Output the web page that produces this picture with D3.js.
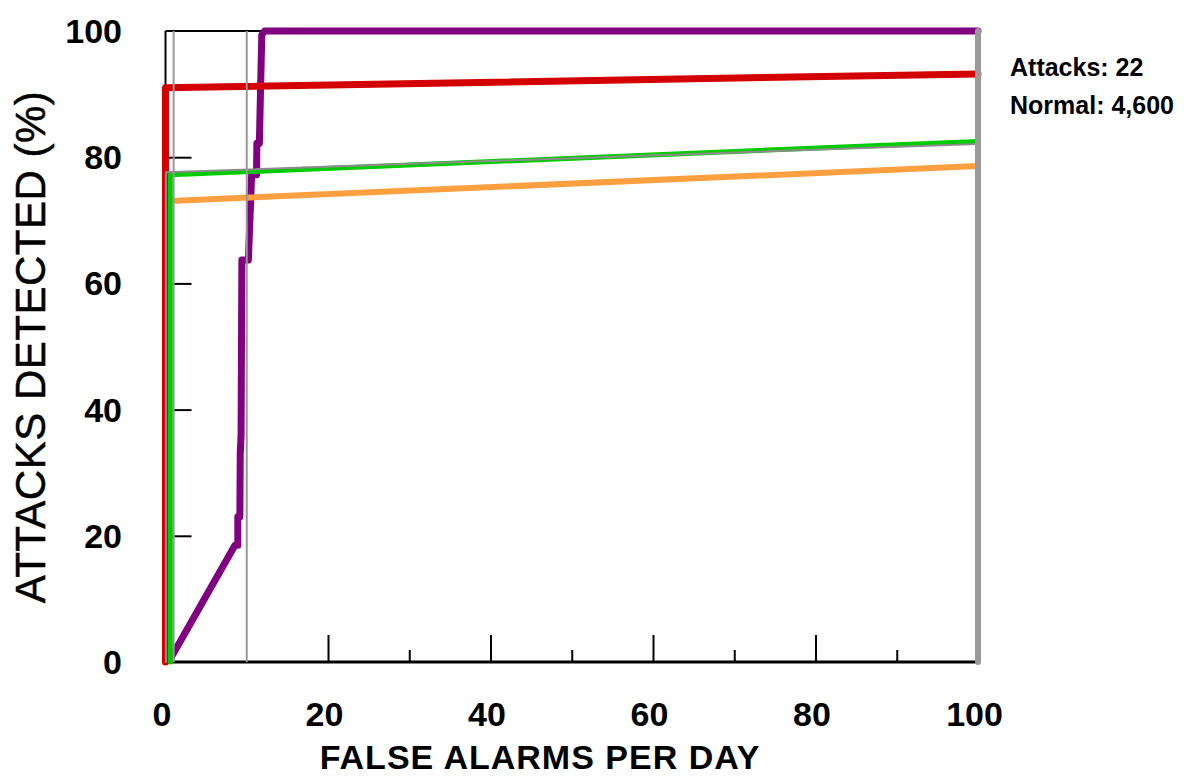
<!DOCTYPE html>
<html><head><meta charset="utf-8">
<script src="https://cdn.jsdelivr.net/npm/d3@7"></script>
<style>body{margin:0;background:#fff}svg{display:block}text{font-family:"Liberation Sans",Arial,Helvetica,sans-serif}</style>
</head><body>
<svg id="c" width="1184" height="776"></svg>
<script>
// Data
const xMajorTicks = [0, 20, 40, 60, 80, 100];
const xMinorTicks = [30, 50, 70, 90];
const yTicks = [0, 20, 40, 60, 80, 100];
const refLinesX = [1, 10];
const purpleX = [0.6, 8.55, 8.9, 8.9, 9.15, 9.2, 9.3, 9.4, 10.2, 10.6, 11.2, 11.25, 11.55, 11.85, 12.2, 100];
const purpleY = [0.5, 18.5, 18.5, 23, 23, 33, 36, 63.7, 63.7, 77.2, 77.2, 82.2, 82.2, 99.4, 100, 100];
const redX = [0, 0, 100];
const redY = [0, 91.0, 93.2];
const orangeX = [1.3, 100];
const orangeY = [73.1, 78.6];
const greenX = [0.6, 0.6, 100];
const greenY = [0, 77.2, 82.5];
const grayX = [0.05, 0.05, 100];
const grayY = [0, 77.6, 82.1];
const notes = ["Attacks: 22", "Normal: 4,600"];

const svg = d3.select("#c");
const x = d3.scaleLinear().domain([0, 100]).range([165.5, 978]);
const y = d3.scaleLinear().domain([0, 100]).range([662, 31]);
const zip = (a, b) => a.map((v, i) => [v, b[i]]);
const line = d3.line().x(d => x(d[0])).y(d => y(d[1]));

// frame top
svg.append("line").attr("x1", x(0)).attr("x2", x(100)).attr("y1", y(100)).attr("y2", y(100)).attr("stroke", "#000").attr("stroke-width", 2);

// x axis
const xAxis = d3.axisTop(x).tickValues([20, 40, 60, 80]).tickSize(27).tickFormat("");
const gx = svg.append("g").attr("transform", `translate(0,${y(0)})`).call(xAxis);
gx.select(".domain").remove();
gx.selectAll(".tick line").attr("stroke", "#000").attr("stroke-width", 2);
const xMinor = d3.axisTop(x).tickValues(xMinorTicks).tickSize(12).tickFormat("");
const gxm = svg.append("g").attr("transform", `translate(0,${y(0)})`).call(xMinor);
gxm.select(".domain").remove();
gxm.selectAll(".tick line").attr("stroke", "#000").attr("stroke-width", 2);
svg.append("line").attr("x1", x(0)).attr("x2", x(100)).attr("y1", y(0)).attr("y2", y(0)).attr("stroke", "#000").attr("stroke-width", 3);

// x tick labels
const gxl = svg.append("g").attr("transform", `translate(-4,${y(0)})`)
  .call(d3.axisBottom(x).tickValues(xMajorTicks).tickSize(0).tickPadding(0));
gxl.select(".domain").remove();
gxl.selectAll(".tick text").attr("dy", null).attr("y", 64).attr("font-size", 34).attr("font-weight", "bold").attr("fill", "#000")
  .style("font-family", '"Liberation Sans",Arial,sans-serif');

// y axis
const gy = svg.append("g").attr("transform", `translate(${x(0)},0)`)
  .call(d3.axisRight(y).tickValues([20, 40, 60, 80]).tickSize(26).tickFormat(""));
gy.select(".domain").remove();
gy.selectAll(".tick line").attr("stroke", "#000").attr("stroke-width", 2);
svg.append("line").attr("x1", x(0)).attr("x2", x(0)).attr("y1", y(100)).attr("y2", y(0)).attr("stroke", "#000").attr("stroke-width", 2);

const gyl = svg.append("g").attr("transform", `translate(122,0)`)
  .call(d3.axisLeft(y).tickValues(yTicks).tickSize(0).tickPadding(0));
gyl.select(".domain").remove();
gyl.selectAll(".tick text").attr("dy", "0.34em").attr("font-size", 34).attr("font-weight", "bold").attr("fill", "#000")
  .style("font-family", '"Liberation Sans",Arial,sans-serif');

// series
function series(xs, ys, color, w) {
  svg.append("path").datum(zip(xs, ys)).attr("d", line).attr("fill", "none")
    .attr("stroke", color).attr("stroke-width", w).attr("stroke-linejoin", "round").attr("stroke-linecap", "round");
}
series(purpleX, purpleY, "#800080", 7);
series(redX, redY, "#d40000", 7);
series(orangeX, orangeY, "#ffa040", 6);
series(greenX, greenY, "#00cc00", 5);
series(grayX, grayY, "#8c8c8c", 2);

// reference vertical lines
svg.selectAll(".ref").data(refLinesX).enter().append("line")
  .attr("x1", d => x(d)).attr("x2", d => x(d)).attr("y1", y(100)).attr("y2", y(0))
  .attr("stroke", "#999").attr("stroke-width", 2);
svg.append("line").attr("x1", x(100)).attr("x2", x(100)).attr("y1", y(100)).attr("y2", y(0))
  .attr("stroke", "#999").attr("stroke-width", 6).attr("stroke-linecap", "round");

// annotations
svg.selectAll(".note").data(notes).enter().append("text")
  .attr("x", 1010).attr("y", (d, i) => 76 + i * 38).attr("font-size", 25).attr("font-weight", "bold").attr("fill", "#000").text(d => d);

// axis titles
svg.append("text").attr("x", 540).attr("y", 769).attr("text-anchor", "middle").attr("font-size", 34)
  .attr("font-weight", "bold").attr("letter-spacing", 1).text("FALSE ALARMS PER DAY");
svg.append("text").attr("transform", "translate(45,347) rotate(-90)").attr("text-anchor", "middle").attr("font-size", 42)
  .attr("letter-spacing", 0.5).attr("stroke", "#000").attr("stroke-width", 0.5).text("ATTACKS DETECTED (%)");
</script>
</body></html>
